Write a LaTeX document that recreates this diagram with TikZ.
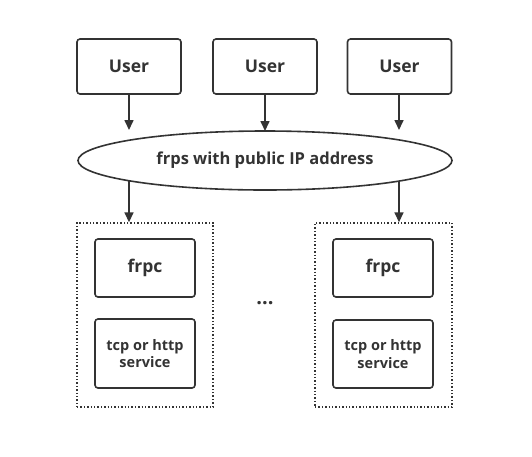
\documentclass[tikz,border=0pt]{standalone}
\usepackage{fontspec}
\setmainfont{Open Sans}
\usetikzlibrary{arrows.meta,shapes.geometric}
\definecolor{ink}{HTML}{333333}
\tikzset{
  box/.style={draw=ink,line width=1.6pt,rounded corners=3pt,font=\bfseries\fontsize{17.5}{19}\selectfont,text=ink,inner sep=0pt},
  smallbox/.style={box,font=\bfseries\fontsize{14.5}{17.5}\selectfont,align=center},
  cluster/.style={draw=ink,line width=1.4pt,dotted,inner sep=0pt},
  arr/.style={draw=ink,line width=1.6pt,-{Triangle[length=10pt,width=9pt]}},
}
\begin{document}
\begin{tikzpicture}[x=1pt,y=-1pt]
\useasboundingbox (0,0) rectangle (532,456);
\node[box,minimum width=104pt,minimum height=55pt] (u1) at (129,66.5) {User};
\node[box,minimum width=104pt,minimum height=55pt] (u2) at (265,66.5) {User};
\node[box,minimum width=104pt,minimum height=55pt] (u3) at (399.5,66.5) {User};
\node[ellipse,draw=ink,line width=1.6pt,minimum width=374pt,minimum height=59pt,inner sep=0pt,font=\bfseries\fontsize{16.5}{19}\selectfont,text=ink] (fs) at (265,160.5) {frps with public IP address};
\node[cluster,minimum width=136pt,minimum height=184pt] (c1) at (145,315) {};
\node[cluster,minimum width=137pt,minimum height=184pt] (c2) at (383.5,315) {};
\node[box,minimum width=100pt,minimum height=58pt] (f1) at (145,268) {frpc};
\node[box,minimum width=100pt,minimum height=58pt] (f2) at (383,268) {frpc};
\node[smallbox,minimum width=100pt,minimum height=69pt] (s1) at (145,353.5) {tcp or http\\service};
\node[smallbox,minimum width=100pt,minimum height=68pt] (s2) at (383,354) {tcp or http\\service};
\node[font=\bfseries\fontsize{20}{22}\selectfont,text=ink] (dots) at (265,303) {...};
\coordinate (e1) at (129,130);
\coordinate (e2) at (265,131);
\coordinate (e3) at (399,130);
\draw[arr] (u1.south -| e1) -- (e1);
\draw[arr] (u2.south) -- (e2);
\draw[arr] (u3.south -| e3) -- (e3);
\coordinate (b1) at (129,181);
\coordinate (b2) at (399,181);
\draw[arr] (b1) -- (b1 |- c1.north);
\draw[arr] (b2) -- (b2 |- c2.north);
\end{tikzpicture}
\end{document}
